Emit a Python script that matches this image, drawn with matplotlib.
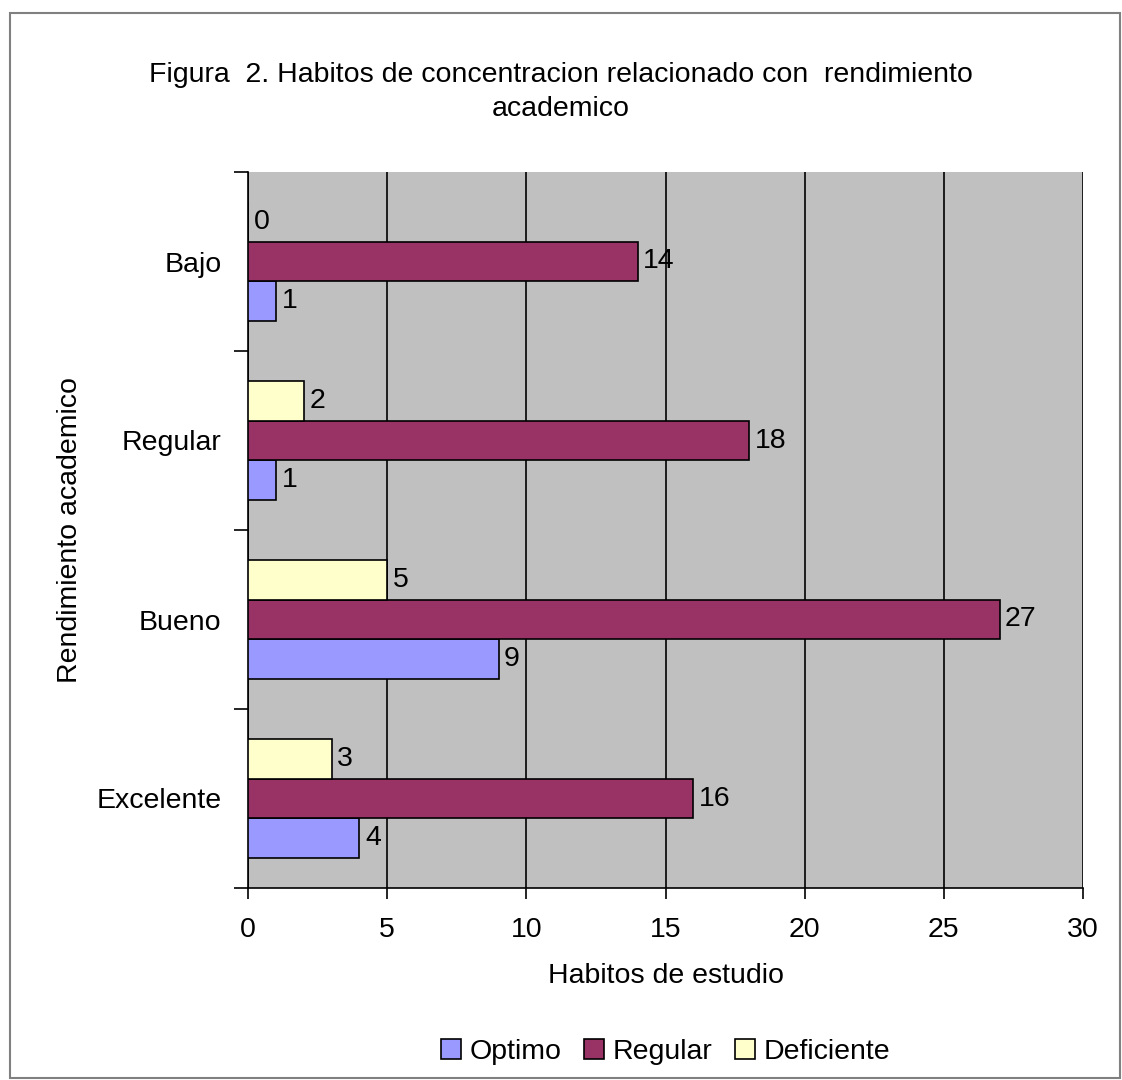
import matplotlib
matplotlib.use("Agg")
import matplotlib.pyplot as plt
import numpy as np
from matplotlib.patches import Rectangle

categories = ["Excelente", "Bueno", "Regular", "Bajo"]
optimo = [4, 9, 1, 1]
regular = [16, 27, 18, 14]
deficiente = [3, 5, 2, 0]
series_names = ["Optimo", "Regular", "Deficiente"]
colors = ["#9999FF", "#993366", "#FFFFCC"]
xticks = [0, 5, 10, 15, 20, 25, 30]

plt.rcParams['font.family'] = ['Liberation Sans', 'DejaVu Sans']
FS = 20.5

fig = plt.figure(figsize=(11.22, 10.80), dpi=100)
ax = fig.add_axes([248/1122, 1-888/1080, (1083-248)/1122, (888-172)/1080])
ax.set_facecolor("#C0C0C0")

y = np.arange(len(categories))
h = 0.222
offs = [-h, 0, h]
bars = []
for vals, off, col, name in zip([optimo, regular, deficiente], offs, colors, series_names):
    b = ax.barh(y + off, vals, height=h, color=col, edgecolor="black", linewidth=1.2, label=name, zorder=3)
    bars.append(b)
    for yy, v in zip(y + off, vals):
        ax.text(v + 0.2, yy, str(v), va="center", ha="left", fontsize=FS, zorder=4)

ax.set_xlim(0, 30)
ax.set_ylim(-0.5, 3.5)
ax.set_xticks(xticks)
ax.set_xticklabels([str(t) for t in xticks], fontsize=FS)
ax.xaxis.grid(True, color="black", linewidth=1.2, zorder=1)
ax.set_yticks(y)
ax.set_yticklabels(categories, fontsize=FS)
ax.tick_params(axis="y", length=0, pad=19)
ax.set_yticks(np.arange(-0.5, 4.0, 1.0), minor=True)
ax.tick_params(axis="y", which="minor", length=10, width=1.2, direction="out")
ax.tick_params(axis="x", length=8, width=1.2, direction="out", pad=13)
for s in ["top", "right"]:
    ax.spines[s].set_visible(False)
for s in ["left", "bottom"]:
    ax.spines[s].set_linewidth(1.2)

ax.set_xlabel("Habitos de estudio", fontsize=FS, labelpad=14)
ax.set_ylabel("Rendimiento academico", fontsize=FS, labelpad=10)

fig.text(0.5, 1-92/1080, "Figura  2. Habitos de concentracion relacionado con  rendimiento\nacademico",
         ha="center", va="center", fontsize=FS, linespacing=1.45)

leg = fig.legend(handles=bars, labels=series_names, loc="center", bbox_to_anchor=(0.593, 1-1052/1080),
                 ncol=3, frameon=False, fontsize=FS, handlelength=0.7, handleheight=0.7,
                 handletextpad=0.3, columnspacing=0.8)

fig.patches.append(Rectangle((10/1122, 2/1080), 1110/1122, 1-13/1080-2/1080, transform=fig.transFigure,
                             fill=False, edgecolor="#808080", linewidth=1.5))

fig.savefig("out.png", dpi=100)
